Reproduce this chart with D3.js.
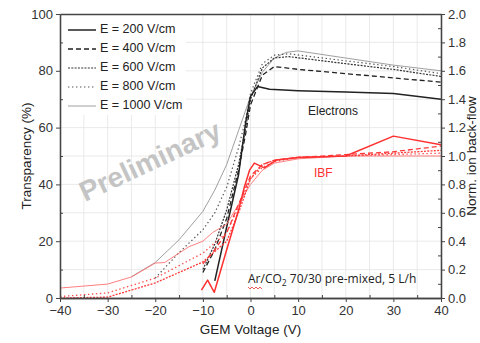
<!DOCTYPE html>
<html>
<head>
<meta charset="utf-8">
<script src="https://cdn.jsdelivr.net/npm/d3@7"></script>
<style>
  body { margin: 0; background: #fff; }
  svg { display: block; font-family: "Liberation Sans", Arial, sans-serif; }
</style>
</head>
<body>
<svg width="480" height="343"></svg>
<script>
// drift field of each series
const fieldLabels = ["E = 200 V/cm", "E = 400 V/cm", "E = 600 V/cm", "E = 800 V/cm", "E = 1000 V/cm"];

// electron transparency (%) vs GEM voltage, one row per field
const elecVoltage = [
  [-7.5, -5, -2.5, -1, 0, 1.5, 4, 10, 20, 30, 40],
  [-10, -7.5, -5, -2.5, -1, 0, 2.5, 5, 10, 20, 30, 40],
  [-10, -7.5, -5, -2.5, -1, 0, 2.5, 5, 8, 20, 30, 40],
  [-20, -15, -10, -7.5, -5, -2.5, -1, 0, 2.5, 5, 8, 20, 30, 40],
  [-25, -20, -15, -10, -7.5, -5, -2.5, 0, 2.5, 5, 7.5, 10, 20, 30, 40]
];
const elecTransparency = [
  [6, 25, 43.5, 62, 71, 74.5, 73.5, 73, 72.5, 72, 70],
  [9, 17, 28, 45, 58, 68, 78.5, 81.5, 80.5, 79, 77.5, 76],
  [10, 19, 31, 47, 60, 70, 81, 84.5, 85, 82.5, 80.5, 78],
  [7, 16, 24, 30, 39, 53, 63, 72, 82.5, 85.5, 86, 83.5, 81.5, 79],
  [7.5, 12.5, 20.5, 30.5, 38, 47, 59, 71, 79.5, 84.5, 86.5, 87, 84.5, 82, 80]
];

// normalised ion back-flow vs GEM voltage
const ibfVoltage = [
  [-10.3, -9, -7.6, -5, -2.5, -1.3, -0.2, 0.8, 2.9, 5.5, 10, 20, 30, 40],
  [-10, -7.5, -5, -2.5, 0, 2.5, 5, 10, 20, 30, 40],
  [-40, -30, -20, -10, -5, -2.5, 0, 2.5, 5, 10, 20, 30, 40],
  [-40, -30, -20, -10, -5, -2.5, 0, 2.5, 5, 10, 20, 30, 40],
  [-40, -30, -25, -20, -18, -13, -10, -8, -5, -2.5, 0, 2.5, 5, 10, 20, 30, 40]
];
const ibfNorm = [
  [0.056, 0.126, 0.04, 0.34, 0.62, 0.78, 0.9, 0.95, 0.916, 0.972, 0.99, 1.0, 1.14, 1.08],
  [0.24, 0.34, 0.46, 0.66, 0.86, 0.94, 0.97, 0.99, 1.01, 1.03, 1.07],
  [0, 0.006, 0.106, 0.254, 0.4, 0.6, 0.84, 0.94, 0.97, 0.99, 1.0, 1.02, 1.04],
  [0.01, 0.036, 0.14, 0.316, 0.46, 0.64, 0.84, 0.92, 0.96, 0.99, 1.0, 1.01, 1.02],
  [0.07, 0.098, 0.148, 0.246, 0.25, 0.36, 0.4, 0.46, 0.52, 0.66, 0.8, 0.9, 0.95, 0.98, 1.0, 1.0, 1.0]
];

const xTicks = [-40, -30, -20, -10, 0, 10, 20, 30, 40];
const leftTicks = [0, 20, 40, 60, 80, 100];
const rightTicks = [0, 0.2, 0.4, 0.6, 0.8, 1.0, 1.2, 1.4, 1.6, 1.8, 2.0];

// line styles per field
const blackStyle = [
  { color: "#222", width: 1.5, dash: null },
  { color: "#222", width: 1.3, dash: "5,3" },
  { color: "#333", width: 1.2, dash: "2,1.3" },
  { color: "#555", width: 1.2, dash: "1.4,2.6" },
  { color: "#888", width: 0.8, dash: null }
];
const redStyle = [
  { color: "#ff3030", width: 1.5, dash: null },
  { color: "#ff3a3a", width: 1.3, dash: "5,3" },
  { color: "#ff3a3a", width: 1.3, dash: "2,1.3" },
  { color: "#ff4a4a", width: 1.3, dash: "1.4,2.6" },
  { color: "#ff7070", width: 0.9, dash: null }
];

const svg = d3.select("svg");
const plotL = 60, plotR = 441, plotT = 14, plotB = 298;

const x = d3.scaleLinear().domain([-40, 40]).range([plotL, plotR]);
const yL = d3.scaleLinear().domain([0, 100]).range([plotB, plotT]);
const yR = d3.scaleLinear().domain([0, 2]).range([plotB, plotT]);

// grid
const grid = svg.append("g").attr("stroke", "#e4e4e4").attr("stroke-width", 0.8);
grid.selectAll(".gx").data(d3.range(-35, 40, 5)).join("line")
  .attr("x1", d => x(d)).attr("x2", d => x(d)).attr("y1", plotT).attr("y2", plotB);
grid.selectAll(".gy").data(d3.range(10, 100, 10)).join("line")
  .attr("y1", d => yL(d)).attr("y2", d => yL(d)).attr("x1", plotL).attr("x2", plotR);

// watermark
svg.append("text")
  .attr("transform", "translate(151,163) rotate(-25)")
  .attr("text-anchor", "middle").attr("dominant-baseline", "middle")
  .attr("font-size", 28).attr("font-weight", "bold").attr("fill", "#c4c4c4")
  .text("Preliminary");

// legend background
svg.append("rect").attr("x", plotL + 1).attr("y", plotT + 1).attr("width", 125).attr("height", 100).attr("fill", "#fff");

const curves = svg.append("g").attr("fill", "none").attr("stroke-linejoin", "round");

function drawSeries(vs, ys, scaleY, styles) {
  vs.forEach((v, i) => {
    const pts = v.map((d, j) => [x(d), scaleY(ys[i][j])]);
    const line = d3.line().curve(d3.curveLinear);
    curves.append("path")
      .attr("d", line(pts))
      .attr("stroke", styles[i].color)
      .attr("stroke-width", styles[i].width)
      .attr("stroke-dasharray", styles[i].dash);
  });
}

drawSeries(elecVoltage.slice().reverse(), elecTransparency.slice().reverse(), yL, blackStyle.slice().reverse());
drawSeries(ibfVoltage.slice().reverse(), ibfNorm.slice().reverse(), yR, redStyle.slice().reverse());

// axes
function styleAxis(g) {
  g.selectAll(".domain").attr("stroke", "#444").attr("stroke-width", 1.3);
  g.selectAll(".tick line").attr("stroke", "#444").attr("stroke-width", 1);
  g.selectAll(".tick text").attr("fill", "#333").attr("font-size", 13)
    .attr("font-family", "'Liberation Sans', Arial, sans-serif");
}

svg.append("g").attr("transform", `translate(0,${plotB})`)
  .call(d3.axisBottom(x).tickValues(xTicks).tickSize(4).tickSizeOuter(0).tickPadding(4))
  .call(styleAxis);
svg.append("g").attr("transform", `translate(0,${plotB})`)
  .call(d3.axisBottom(x).tickValues(d3.range(-35, 40, 10)).tickSize(-3).tickSizeOuter(0).tickFormat(""))
  .call(styleAxis);
svg.append("g").attr("transform", `translate(0,${plotT})`)
  .call(d3.axisTop(x).tickValues([]).tickSizeOuter(0))
  .call(styleAxis);

svg.append("g").attr("transform", `translate(${plotL},0)`)
  .call(d3.axisLeft(yL).tickValues(leftTicks).tickSize(4).tickSizeOuter(0).tickPadding(3))
  .call(styleAxis);
svg.append("g").attr("transform", `translate(${plotL},0)`)
  .call(d3.axisLeft(yL).tickValues(d3.range(10, 100, 20)).tickSize(-3).tickSizeOuter(0).tickFormat(""))
  .call(styleAxis);

svg.append("g").attr("transform", `translate(${plotR},0)`)
  .call(d3.axisRight(yR).tickValues(rightTicks).tickSize(4).tickSizeOuter(0).tickPadding(3).tickFormat(d3.format(".1f")))
  .call(styleAxis);
svg.append("g").attr("transform", `translate(${plotR},0)`)
  .call(d3.axisRight(yR).tickValues(d3.range(0.1, 2, 0.2)).tickSize(-3).tickSizeOuter(0).tickFormat(""))
  .call(styleAxis);

// axis titles
svg.append("text")
  .attr("x", x(0)).attr("y", 334).attr("text-anchor", "middle")
  .attr("font-size", 13.5).attr("fill", "#222").text("GEM Voltage (V)");
svg.append("text")
  .attr("transform", `translate(27,${(plotT + plotB) / 2}) rotate(-90)`)
  .attr("text-anchor", "middle").attr("dominant-baseline", "middle")
  .attr("font-size", 13.5).attr("fill", "#222").text("Transparency (%)");
svg.append("text")
  .attr("transform", `translate(472,${(plotT + plotB) / 2}) rotate(-90)`)
  .attr("text-anchor", "middle").attr("dominant-baseline", "middle")
  .attr("font-size", 13.5).attr("fill", "#222").text("Norm. ion back-flow");

// legend
const legend = svg.append("g");
fieldLabels.forEach((lab, i) => {
  const ly = 30 + i * 19;
  legend.append("line")
    .attr("x1", 68).attr("x2", 96).attr("y1", ly).attr("y2", ly)
    .attr("stroke", blackStyle[i].color)
    .attr("stroke-width", blackStyle[i].width)
    .attr("stroke-dasharray", blackStyle[i].dash);
  legend.append("text")
    .attr("x", 100).attr("y", ly).attr("dominant-baseline", "middle")
    .attr("font-size", 12.5).attr("fill", "#222").text(lab);
});

// annotations
svg.append("text").attr("x", 308).attr("y", 115).attr("font-size", 12).attr("fill", "#222").text("Electrons");
svg.append("text").attr("x", 314).attr("y", 177).attr("font-size", 12).attr("fill", "#ff3030").text("IBF");

const gas = svg.append("text").attr("x", 248).attr("y", 283)
  .attr("font-family", "'Open Sans', 'Noto Sans', sans-serif")
  .attr("font-size", 12).attr("fill", "#222");
gas.append("tspan").text("Ar/CO");
gas.append("tspan").attr("dy", 3).attr("font-size", 8.5).text("2");
gas.append("tspan").attr("dy", -3).text(" 70/30 pre-mixed, 5 L/h");

// spell-check squiggle under "Ar"
const sq = d3.path();
sq.moveTo(248, 287);
for (let k = 0; k < 7; k++) sq.lineTo(250 + k * 2, k % 2 === 0 ? 289 : 287);
svg.append("path").attr("d", sq.toString()).attr("fill", "none").attr("stroke", "#e33").attr("stroke-width", 0.8);
</script>
</body>
</html>
